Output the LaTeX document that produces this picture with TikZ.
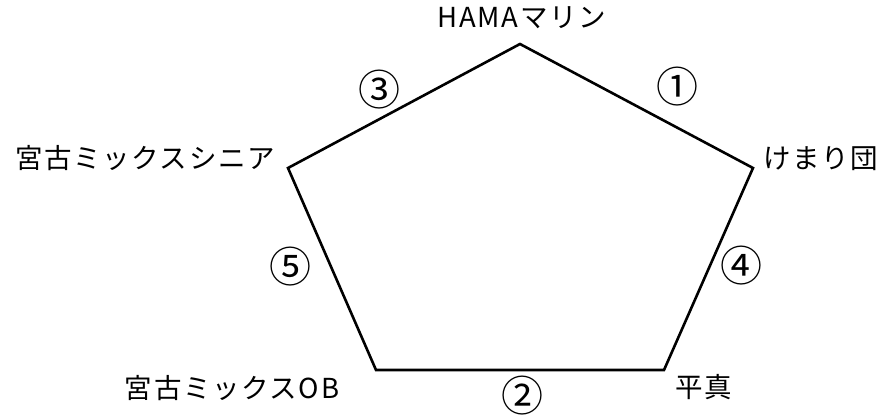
\documentclass[tikz,border=0pt]{standalone}
\usepackage{fontspec}
\setmainfont{Noto Sans CJK JP}
\begin{document}
\begin{tikzpicture}[x=1pt,y=1pt,
  lbl/.style={inner sep=0pt,font=\fontsize{27.5}{31}\selectfont\addfontfeature{LetterSpace=6},text height=0.88em,text depth=0.12em},
  num/.style={inner sep=0pt,font=\fontsize{42}{46}\selectfont,text height=0.88em,text depth=0.12em}]
\useasboundingbox (0,0) rectangle (878,418);
\coordinate (T) at (520,374);
\coordinate (R) at (753,250);
\coordinate (BR) at (664,48);
\coordinate (BL) at (376,48);
\coordinate (L) at (288,250);
\draw[line width=2.6pt,line join=miter] (T) -- (R) -- (BR) -- (BL) -- (L) -- cycle;
\node[lbl] (hama) at (522,394) {HAMAマリン};
\node[lbl] (kemari) at (821,253) {けまり団};
\node[lbl] (heima) at (704,24) {平真};
\node[lbl] (ob) at (232,23) {宮古ミックスOB};
\node[lbl] (senior) at (145,253) {宮古ミックスシニア};
\node[num] (n1) at (677,319) {①};
\node[num] (n3) at (379,316) {③};
\node[num] (n4) at (741,140) {④};
\node[num] (n5) at (290,139) {⑤};
\node[num,text depth=0pt] (n2) at (522,11) {②};
\end{tikzpicture}
\end{document}
